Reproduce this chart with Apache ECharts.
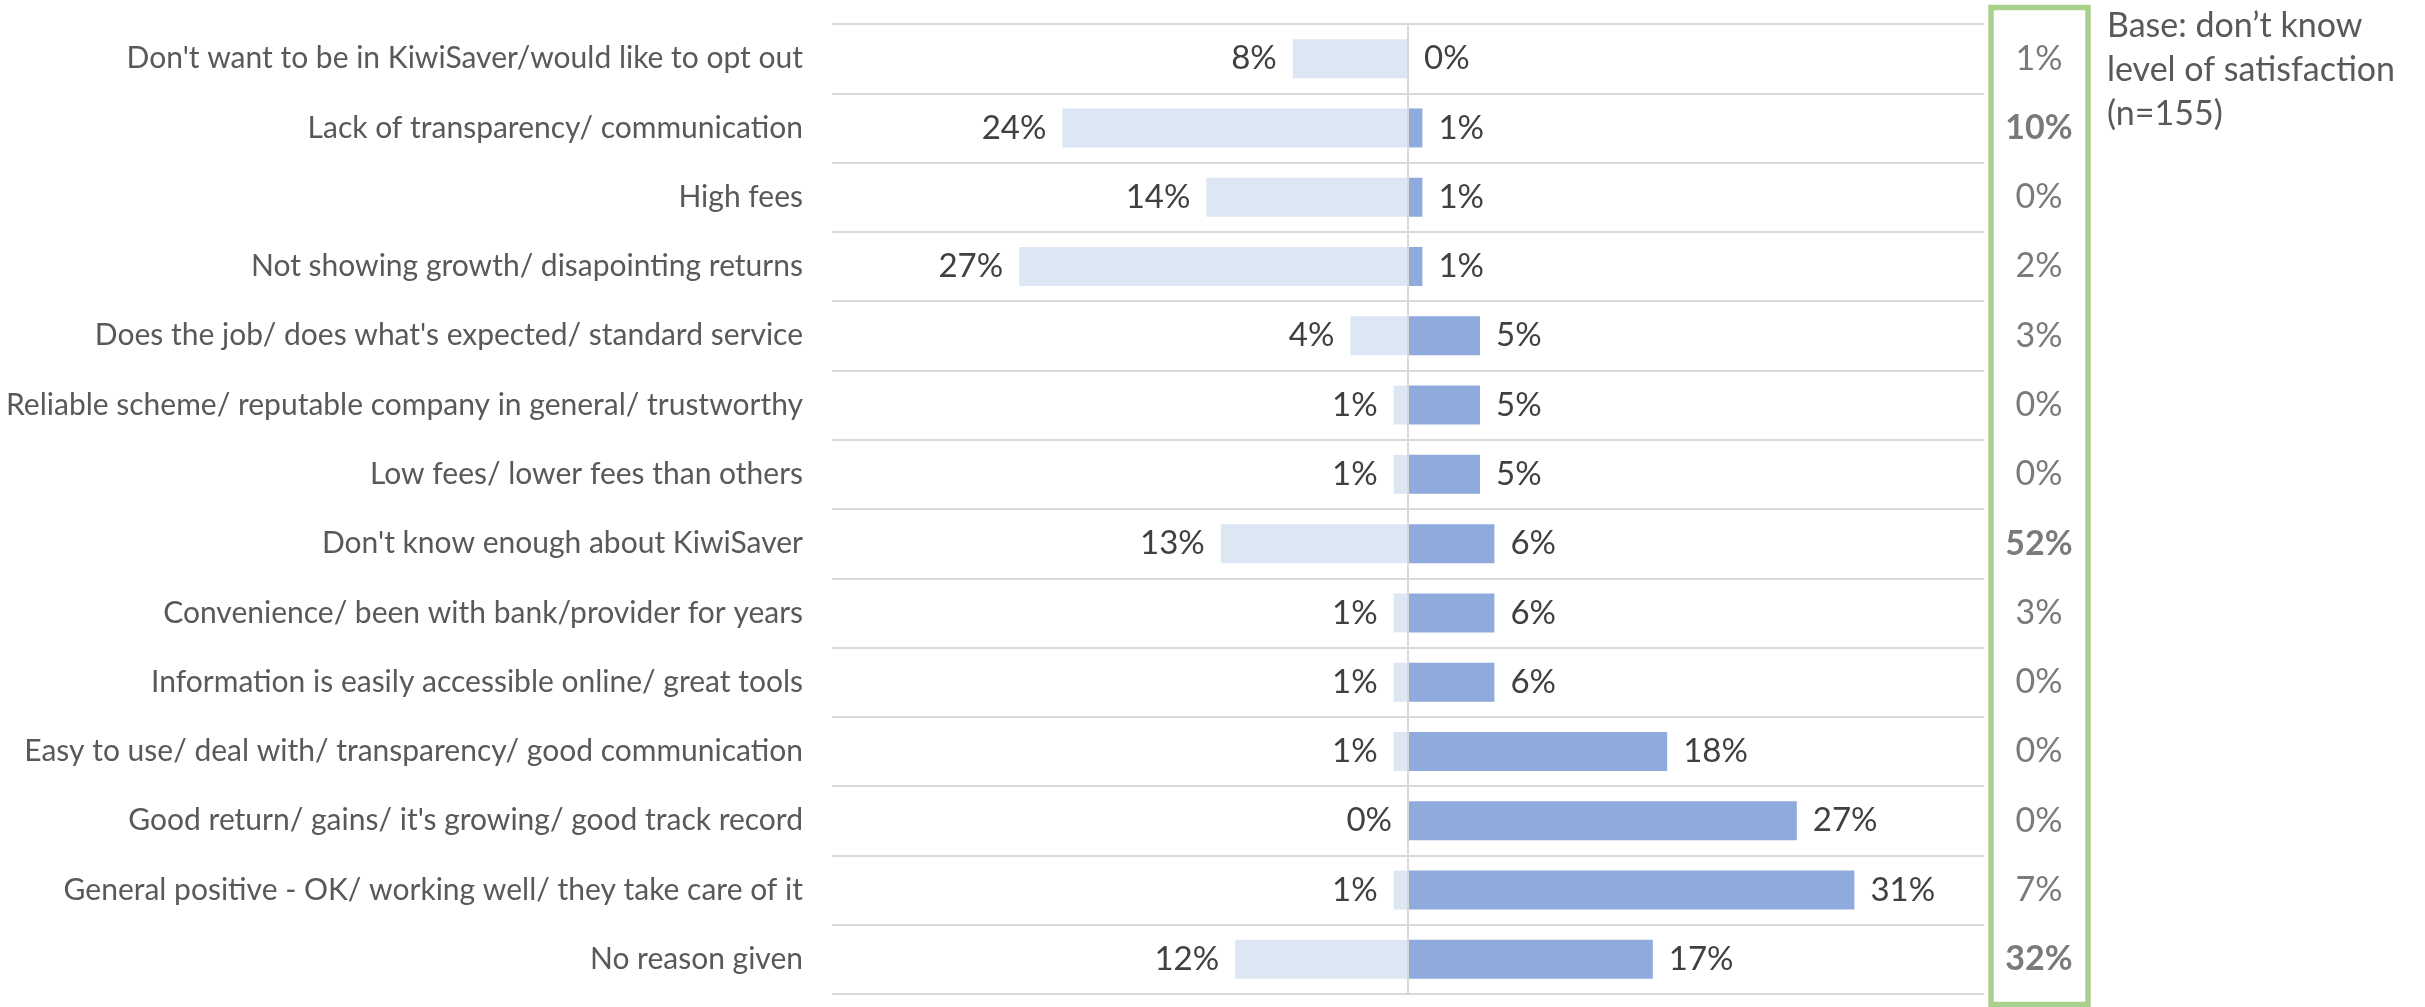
<!DOCTYPE html>
<html>
<head>
<meta charset="utf-8">
<style>
  html, body { margin: 0; padding: 0; background: #ffffff; }
  #chart { width: 2425px; height: 1007px; }
</style>
<script src="https://cdn.jsdelivr.net/npm/echarts@6.0.0/dist/echarts.min.js"></script>
</head>
<body>
<div id="chart"></div>
<script>
// Reasons given for (dis)satisfaction with KiwiSaver provider
const categories = [
  "Don't want to be in KiwiSaver/would like to opt out",
  "Lack of transparency/ communication",
  "High fees",
  "Not showing growth/ disapointing returns",
  "Does the job/ does what's expected/ standard service",
  "Reliable scheme/ reputable company in general/ trustworthy",
  "Low fees/ lower fees than others",
  "Don't know enough about KiwiSaver",
  "Convenience/ been with bank/provider for years",
  "Information is easily accessible online/ great tools",
  "Easy to use/ deal with/ transparency/ good communication",
  "Good return/ gains/ it's growing/ good track record",
  "General positive - OK/ working well/ they take care of it",
  "No reason given"
];

// Dissatisfied (drawn to the left of zero), %
const dissatisfied = [8, 24, 14, 27, 4, 1, 1, 13, 1, 1, 1, 0, 1, 12];
// Satisfied (drawn to the right of zero), %
const satisfied = [0, 1, 1, 1, 5, 5, 5, 6, 6, 6, 18, 27, 31, 17];
// Don't know level of satisfaction, %
const dontKnow = [1, 10, 0, 2, 3, 0, 0, 52, 3, 0, 0, 0, 7, 32];
// Values emphasised in the don't-know column
const dontKnowBold = [false, true, false, false, false, false, false, true, false, false, false, false, false, true];

const baseNote = ["Base: don\u2019t know", "level of satisfaction", "(n=155)"];

const FONT = "Lato, 'Open Sans', sans-serif";

const chart = echarts.init(document.getElementById('chart'), null, { renderer: 'canvas' });

const option = {
  backgroundColor: '#ffffff',
  animation: false,
  textStyle: { fontFamily: FONT },
  grid: [
    { left: 832, right: 441, top: 24, bottom: 13, containLabel: false },
    { left: 1993, width: 92, top: 24, bottom: 13, containLabel: false }
  ],
  xAxis: [
    { type: 'value', gridIndex: 0, min: -40, max: 40, show: false },
    { type: 'value', gridIndex: 1, min: -1, max: 1, show: false }
  ],
  yAxis: [
    {
      type: 'category',
      gridIndex: 0,
      data: categories,
      inverse: true,
      axisLine: { show: false },
      axisTick: { show: false },
      axisLabel: {
        margin: 29,
        fontSize: 30,
        color: '#595959',
        fontFamily: FONT
      },
      splitLine: { show: true, lineStyle: { color: '#D9D9D9', width: 2 } }
    },
    {
      type: 'category',
      gridIndex: 1,
      data: categories,
      inverse: true,
      show: false
    }
  ],
  series: [
    {
      name: 'Dissatisfied',
      type: 'bar',
      xAxisIndex: 0,
      yAxisIndex: 0,
      data: dissatisfied.map(v => -v),
      barWidth: 39,
      barGap: '-100%',
      itemStyle: { color: '#DDE7F4' },
      label: {
        show: true,
        position: 'left',
        distance: 16,
        fontSize: 33,
        color: '#404040',
        fontFamily: FONT,
        formatter: p => Math.abs(p.value) + '%'
      },
      markLine: {
        silent: true,
        symbol: 'none',
        z: 10,
        label: { show: false },
        lineStyle: { color: '#D9D9D9', width: 2, type: 'solid' },
        data: [{ xAxis: 0 }]
      }
    },
    {
      name: 'Satisfied',
      type: 'bar',
      xAxisIndex: 0,
      yAxisIndex: 0,
      data: satisfied,
      barWidth: 39,
      barGap: '-100%',
      itemStyle: { color: '#8FAADC' },
      label: {
        show: true,
        position: 'right',
        distance: 16,
        fontSize: 33,
        color: '#404040',
        fontFamily: FONT,
        formatter: p => p.value + '%'
      }
    },
    {
      name: "Don't know",
      type: 'scatter',
      xAxisIndex: 1,
      yAxisIndex: 1,
      symbolSize: 1,
      itemStyle: { color: 'transparent' },
      data: dontKnow.map((v, i) => ({
        value: [0, i, v],
        label: { fontWeight: dontKnowBold[i] ? 'bold' : 'normal' }
      })),
      label: {
        show: true,
        position: 'inside',
        fontSize: 34,
        color: '#595959',
        fontFamily: FONT,
        formatter: p => p.value[2] + '%'
      }
    }
  ],
  graphic: [
    {
      type: 'rect',
      shape: { x: 1991, y: 7.5, width: 97, height: 997 },
      style: { fill: 'none', stroke: '#A9D18E', lineWidth: 5.5 },
      silent: true
    },
    {
      type: 'text',
      left: 2107,
      top: 4,
      style: {
        text: baseNote.join('\n'),
        font: '34px ' + FONT,
        lineHeight: 44,
        fill: '#595959'
      },
      silent: true
    }
  ]
};

chart.setOption(option);
</script>
</body>
</html>
